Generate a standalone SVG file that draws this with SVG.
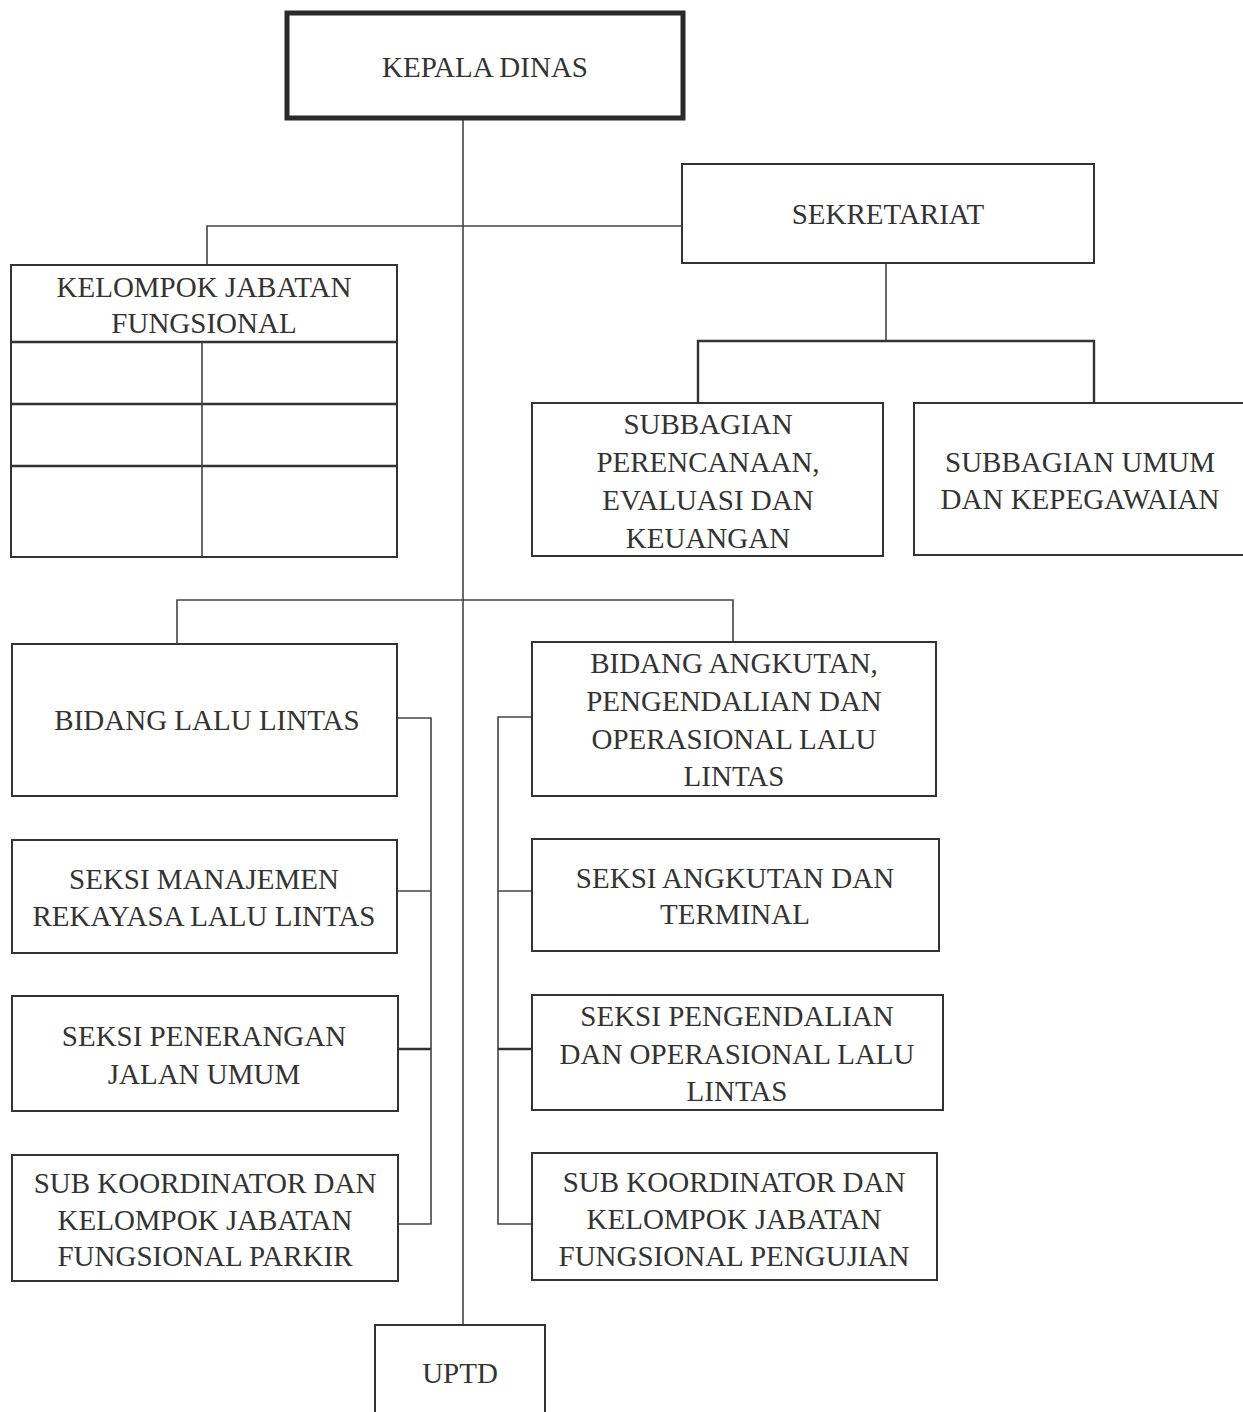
<svg xmlns="http://www.w3.org/2000/svg" width="1243" height="1412" viewBox="0 0 1243 1412">
<style>
.box{fill:#fff;stroke:#333;stroke-width:2}
.thick{fill:#fff;stroke:#2a2a2a;stroke-width:5}
.ln{fill:none;stroke:#444;stroke-width:1.6}
.ln2{fill:none;stroke:#333;stroke-width:2.4}
text{font-family:"Liberation Serif","DejaVu Serif",serif;font-size:29px;fill:#333;text-anchor:middle;dominant-baseline:central}
</style>
<rect width="1243" height="1412" fill="#fff"/>
<g id="connectors">
<line class="ln" x1="463" y1="119" x2="463" y2="1325"/>
<polyline class="ln" points="682,226 207,226 207,265"/>
<line class="ln" x1="886" y1="263" x2="886" y2="341"/>
<polyline class="ln2" points="698,403 698,341 1094,341 1094,403"/>
<polyline class="ln" points="177,644 177,600 733,600 733,642"/>
<polyline class="ln" points="397,718 431,718 431,1224 398,1224"/>
<line class="ln" x1="397" y1="891" x2="431" y2="891"/>
<line class="ln2" x1="398" y1="1049" x2="431" y2="1049"/>
<polyline class="ln" points="532,717 498,717 498,1224 532,1224"/>
<line class="ln" x1="498" y1="891" x2="532" y2="891"/>
<line class="ln2" x1="498" y1="1049" x2="532" y2="1049"/>
</g>
<g id="kepala-dinas">
<rect class="thick" x="287" y="13" width="396" height="105"/>
<text x="485" y="67">KEPALA DINAS</text>
</g>
<g id="sekretariat">
<rect class="box" x="682" y="164" width="412" height="99"/>
<text x="888" y="214">SEKRETARIAT</text>
</g>
<g id="kelompok-jabatan-fungsional">
<rect class="box" x="11" y="265" width="386" height="292"/>
<line class="ln2" x1="11" y1="342" x2="397" y2="342"/>
<line class="ln2" x1="11" y1="404" x2="397" y2="404"/>
<line class="ln2" x1="11" y1="466" x2="397" y2="466"/>
<line class="ln" x1="202" y1="342" x2="202" y2="557"/>
<text x="204" y="287">KELOMPOK JABATAN</text>
<text x="204" y="323">FUNGSIONAL</text>
</g>
<g id="subbagian-perencanaan">
<rect class="box" x="532" y="403" width="351" height="153"/>
<text x="708" y="424">SUBBAGIAN</text>
<text x="708" y="462">PERENCANAAN,</text>
<text x="708" y="500">EVALUASI DAN</text>
<text x="708" y="538">KEUANGAN</text>
</g>
<g id="subbagian-umum">
<rect class="box" x="914" y="403" width="340" height="152"/>
<text x="1080" y="462">SUBBAGIAN UMUM</text>
<text x="1080" y="499">DAN KEPEGAWAIAN</text>
</g>
<g id="bidang-lalu-lintas">
<rect class="box" x="12" y="644" width="385" height="152"/>
<text x="207" y="720">BIDANG LALU LINTAS</text>
</g>
<g id="seksi-manajemen">
<rect class="box" x="12" y="840" width="385" height="113"/>
<text x="204" y="879">SEKSI MANAJEMEN</text>
<text x="204" y="916">REKAYASA LALU LINTAS</text>
</g>
<g id="seksi-penerangan">
<rect class="box" x="12" y="996" width="386" height="115"/>
<text x="204" y="1036">SEKSI PENERANGAN</text>
<text x="204" y="1074">JALAN UMUM</text>
</g>
<g id="sub-koordinator-parkir">
<rect class="box" x="12" y="1155" width="386" height="126"/>
<text x="205" y="1183">SUB KOORDINATOR DAN</text>
<text x="205" y="1220">KELOMPOK JABATAN</text>
<text x="205" y="1256">FUNGSIONAL PARKIR</text>
</g>
<g id="bidang-angkutan">
<rect class="box" x="532" y="642" width="404" height="154"/>
<text x="734" y="663">BIDANG ANGKUTAN,</text>
<text x="734" y="701">PENGENDALIAN DAN</text>
<text x="734" y="739">OPERASIONAL LALU</text>
<text x="734" y="776">LINTAS</text>
</g>
<g id="seksi-angkutan">
<rect class="box" x="532" y="839" width="407" height="112"/>
<text x="735" y="878">SEKSI ANGKUTAN DAN</text>
<text x="735" y="914">TERMINAL</text>
</g>
<g id="seksi-pengendalian">
<rect class="box" x="532" y="995" width="411" height="115"/>
<text x="737" y="1016">SEKSI PENGENDALIAN</text>
<text x="737" y="1054">DAN OPERASIONAL LALU</text>
<text x="737" y="1091">LINTAS</text>
</g>
<g id="sub-koordinator-pengujian">
<rect class="box" x="532" y="1153" width="405" height="127"/>
<text x="734" y="1182">SUB KOORDINATOR DAN</text>
<text x="734" y="1219">KELOMPOK JABATAN</text>
<text x="734" y="1256">FUNGSIONAL PENGUJIAN</text>
</g>
<g id="uptd">
<rect class="box" x="375" y="1325" width="170" height="100"/>
<text x="460" y="1373">UPTD</text>
</g>
</svg>
